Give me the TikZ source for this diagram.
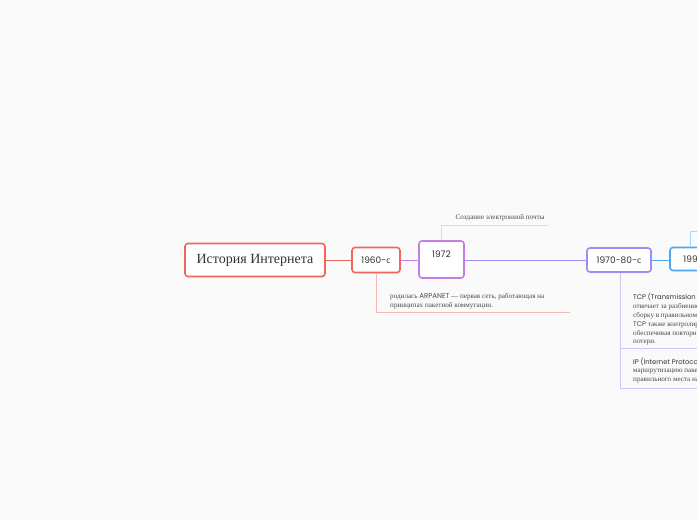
\documentclass[tikz,border=0pt]{standalone}
\usepackage{fontspec}
\setmainfont{Liberation Serif}
\newfontfamily\popf{Poppins}
\newfontfamily\latf{Lato}
\usetikzlibrary{shadows}
\definecolor{bgc}{HTML}{FAFAFA}
\definecolor{redc}{HTML}{F2655E}
\definecolor{purc}{HTML}{C47FE6}
\definecolor{vioc}{HTML}{9D8CF5}
\definecolor{bluc}{HTML}{4DA6F2}
\definecolor{redl}{HTML}{F8B9B5}
\definecolor{purl}{HTML}{E8D0F6}
\definecolor{viol}{HTML}{CEC6F9}
\definecolor{blul}{HTML}{AAD5F8}
\definecolor{txt}{HTML}{333333}
\definecolor{stxt}{HTML}{4A4A4A}
\tikzset{
  topic/.style={draw, line width=1.6pt, fill=white, rounded corners=3pt, inner sep=0pt,
    text=txt, drop shadow={opacity=0.12, shadow xshift=0.6pt, shadow yshift=-0.9pt}},
  link/.style={line width=0.9pt},
  sub/.style={line width=0.7pt},
  small/.style={anchor=west, inner sep=0pt, text=stxt, font=\fontsize{7.1}{8}\selectfont},
  smallsans/.style={anchor=west, inner sep=0pt, text=txt, font=\popf\fontsize{6.8}{8}\selectfont}
}
\begin{document}
\begin{tikzpicture}[x=1pt,y=-1pt]
\fill[bgc] (0,0) rectangle (697,520);
\useasboundingbox (0,0) rectangle (697,520);
\clip (0,0) rectangle (697,520);

% topics
\node[topic, draw=redc, minimum width=140pt, minimum height=33pt, font=\fontsize{14}{16}\selectfont] (title) at (255,260) {История Интернета};
\node[topic, draw=redc, minimum width=48pt, minimum height=25pt, font=\popf\fontsize{9}{10}\selectfont] (n1960) at (376,260) {1960-{\latf с}};
\node[topic, draw=purc, minimum width=45pt, minimum height=37pt] (n1972) at (441.5,259.5) {};
\node[inner sep=0pt, text=txt, font=\popf\fontsize{9}{10}\selectfont] (l1972) at (441.5,254.5) {1972};
\node[topic, draw=vioc, minimum width=64pt, minimum height=24pt, font=\popf\fontsize{9}{10}\selectfont] (n7080) at (619,260) {1970-80-{\latf с}};
\node[topic, draw=bluc, minimum width=44pt, minimum height=23pt, font=\popf\fontsize{9}{10}\selectfont] (n1991) at (692,259) {1991};

% connectors between topics
\draw[link, redc] (title.east) -- (n1960.west);
\draw[link, purc] (n1960.east) -- (n1972.west |- n1960.east);
\draw[link, vioc] (n1972.east |- n7080.west) -- (n7080.west);
\draw[link, bluc] (n7080.east) -- (n1991.west |- n7080.east);

% 1960s sub-topic
\coordinate (a1) at (376,312);
\coordinate (a2) at (570,312);
\draw[sub, redl] (n1960.south) -- (a1) -- (a2);
\node[small] (arp1) at (390,296.5) {родилась {\popf\fontsize{7}{8}\selectfont ARPANET} — первая сеть, работающая на};
\node[small] (arp2) at (390,306) {принципах пакетной коммутации.};

% 1972 sub-topic
\coordinate (b1) at (441.5,225);
\coordinate (b2) at (548,225);
\draw[sub, purl] (n1972.north) -- (b1) -- (b2);
\node[small] (mail) at (455.5,218) {Создание электронной почты};

% 1970-80s sub-topics
\coordinate (c1) at (620,348);
\coordinate (c2) at (700,348);
\coordinate (c3) at (620,388);
\coordinate (c4) at (700,388);
\draw[sub, viol] (c1 |- n7080.south) -- (c3) -- (c4);
\draw[sub, viol] (c1) -- (c2);
\node[smallsans] (tcp1) at (633,297) {TCP (Transmission Control Protocol)};
\node[small] (tcp2) at (633,307) {отвечает за разбиение данных на пакеты и их};
\node[small] (tcp3) at (633,316) {сборку в правильном порядке на стороне получателя.};
\node[small] (tcp4) at (633,325) {{\popf\fontsize{6.8}{8}\selectfont TCP} также контролирует поток данных,};
\node[small] (tcp5) at (633,334) {обеспечивая повторную передачу в случае};
\node[small] (tcp6) at (633,343) {потери.};
\node[smallsans] (ip1) at (633,362) {IP (Internet Protocol)};
\node[small] (ip2) at (633,372) {маршрутизацию пакетов от источника до};
\node[small] (ip3) at (633,381) {правильного места назначения.};

% 1991 sub-topic
\coordinate (d1) at (690,231);
\coordinate (d2) at (700,231);
\draw[sub, blul] (d1 |- n1991.north) -- (d1) -- (d2);
\end{tikzpicture}
\end{document}
